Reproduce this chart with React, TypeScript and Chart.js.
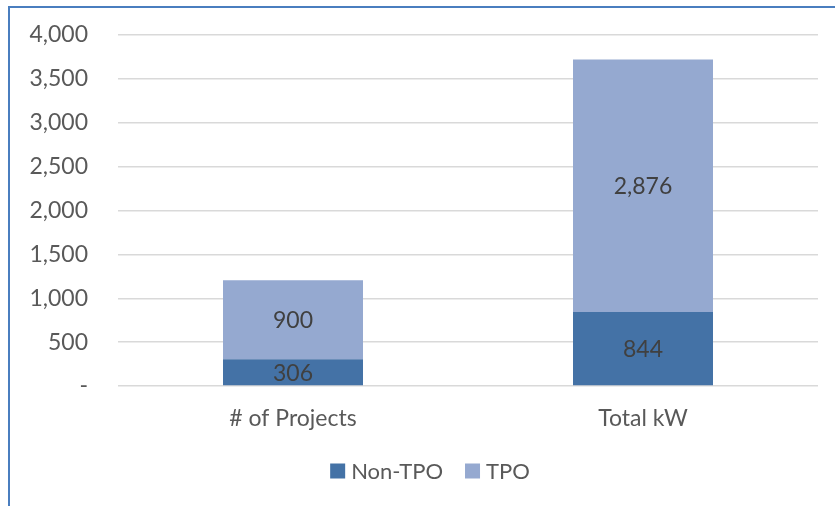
import React, { useEffect, useRef } from "react";
import { Chart, registerables } from "chart.js";

Chart.register(...registerables);

const categories = ["# of Projects", "Total kW"];
const nonTpo = [306, 844];
const tpo = [900, 2876];
const yMax = 4000;
const yStep = 500;

const FONT = "Lato, 'Open Sans', sans-serif";
const TEXT = "#595959";

const barLabels = {
  id: "barLabels",
  afterDatasetsDraw(chart: any) {
    const ctx = chart.ctx;
    ctx.save();
    ctx.fillStyle = "#404040";
    ctx.font = `23px ${FONT}`;
    ctx.textAlign = "center";
    ctx.textBaseline = "middle";
    chart.data.datasets.forEach((ds: any, di: number) => {
      const meta = chart.getDatasetMeta(di);
      meta.data.forEach((el: any, i: number) => {
        const v = ds.data[i];
        const cy = (el.y + el.base) / 2;
        ctx.fillText(v.toLocaleString("en-US"), el.x, cy + 1);
      });
    });
    ctx.restore();
  },
};

const customLegend = {
  id: "customLegend",
  afterDraw(chart: any) {
    const ctx = chart.ctx;
    const box = 15;
    const gapText = 6;
    const gapItem = 22;
    const centerX = 430;
    const cy = 471;
    ctx.save();
    ctx.font = `22px ${FONT}`;
    const items = chart.data.datasets.map((ds: any) => ({
      label: ds.label,
      color: ds.backgroundColor,
      w: ctx.measureText(ds.label).width,
    }));
    let total = 0;
    items.forEach((it: any, i: number) => {
      total += box + gapText + it.w + (i < items.length - 1 ? gapItem : 0);
    });
    let x = centerX - total / 2;
    ctx.textBaseline = "middle";
    ctx.textAlign = "left";
    items.forEach((it: any) => {
      ctx.fillStyle = it.color;
      ctx.fillRect(x, cy - box / 2, box, box);
      x += box + gapText;
      ctx.fillStyle = TEXT;
      ctx.fillText(it.label, x, cy + 1);
      x += it.w + gapItem;
    });
    ctx.restore();
  },
};

export default function App() {
  const ref = useRef<HTMLCanvasElement>(null);
  useEffect(() => {
    if (!ref.current) return;
    const chart = new Chart(ref.current, {
      type: "bar",
      data: {
        labels: categories,
        datasets: [
          { label: "Non-TPO", data: nonTpo, backgroundColor: "#4472A6", borderWidth: 0 },
          { label: "TPO", data: tpo, backgroundColor: "#95A9D0", borderWidth: 0 },
        ],
      },
      options: {
        animation: false,
        responsive: false,
        maintainAspectRatio: false,
        layout: { padding: { left: 0, right: 17, top: 35, bottom: 62 } },
        datasets: { bar: { barPercentage: 0.4, categoryPercentage: 1 } } as any,
        scales: {
          x: {
            stacked: true,
            grid: { display: false, drawTicks: false },
            border: { display: false },
            ticks: { color: TEXT, font: { family: FONT, size: 23 }, padding: 19 },
            afterFit: (s: any) => { s.height = 58; },
          },
          y: {
            stacked: true,
            min: 0,
            max: yMax,
            ticks: {
              stepSize: yStep,
              color: TEXT,
              font: { family: FONT, size: 23 },
              padding: 4,
              callback: (v: any) => (Number(v) === 0 ? "-" : Number(v).toLocaleString("en-US")),
            },
            grid: { color: "#d9d9d9", lineWidth: 1.5, drawTicks: true, tickLength: 26, tickColor: "rgba(0,0,0,0)" },
            border: { display: false },
            afterFit: (s: any) => { s.width = 118; },
          },
        },
        plugins: {
          legend: { display: false },
          tooltip: { enabled: false },
        },
      },
      plugins: [barLabels, customLegend],
    });
    return () => chart.destroy();
  }, []);
  return (
    <div style={{ position: "fixed", left: 0, top: 0, width: 835, height: 506, background: "#fff", overflow: "hidden" }}>
      <canvas ref={ref} width={835} height={506} style={{ position: "absolute", left: 0, top: 0 }} />
      <div style={{ position: "absolute", left: 8, top: 6, width: 900, height: 600, borderLeft: "2px solid #4A7EBF", borderTop: "2px solid #4A7EBF", pointerEvents: "none" }} />
    </div>
  );
}
